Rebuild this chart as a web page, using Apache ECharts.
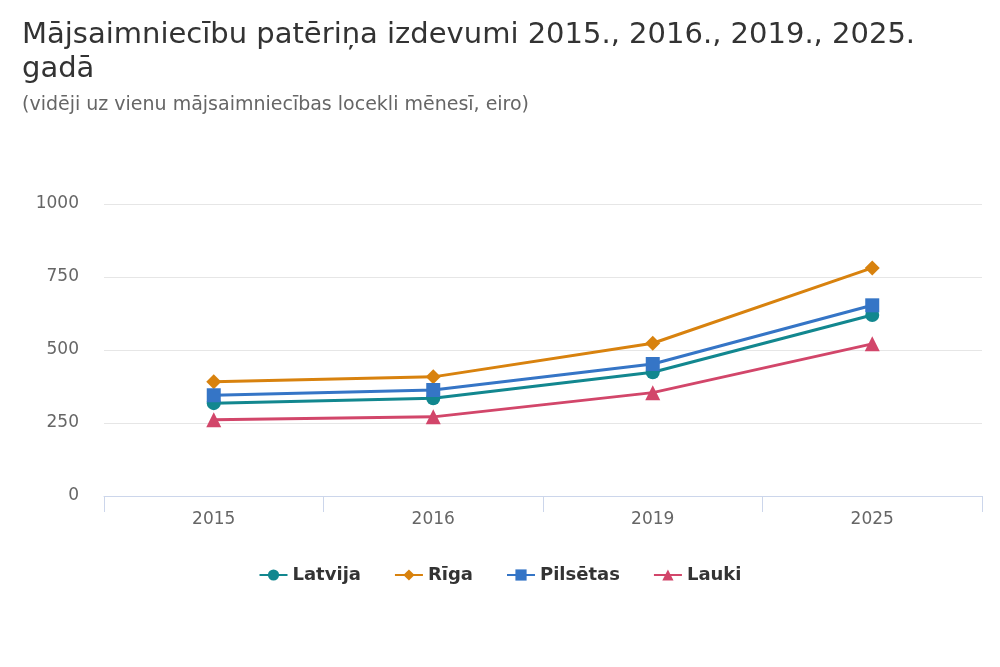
<!DOCTYPE html>
<html>
<head>
<meta charset="utf-8">
<script src="https://cdn.jsdelivr.net/npm/echarts@6/dist/echarts.min.js"></script>
<style>
  html, body { margin: 0; padding: 0; background: #fff; }
  #main { width: 1000px; height: 667px; }
</style>
</head>
<body>
<div id="main"></div>
<script>
// dati no attēla (eiro mēnesī uz vienu locekli)
var years = ["2015", "2016", "2019", "2025"];
var latvija = [318, 335, 424, 620];
var riga = [391, 408, 523, 781];
var pilsetas = [345, 363, 452, 653];
var lauki = [261, 271, 354, 521];
var yTicks = [0, 250, 500, 750, 1000];

var colors = ["#12878f", "#d8820e", "#3575c6", "#d2466a"];
var font = "DejaVu Sans";

function lineSeries(name, data, symbol, size) {
  return {
    name: name,
    type: "line",
    data: data,
    symbol: symbol,
    symbolSize: size,
    showSymbol: true,
    lineStyle: { width: 3 },
    emphasis: { disabled: true }
  };
}

var myChart = echarts.init(document.getElementById("main"));
var option = {
  animation: false,
  color: colors,
  textStyle: { fontFamily: font },
  title: [
    {
      text: "Mājsaimniecību patēriņa izdevumi 2015., 2016., 2019., 2025.\ngadā",
      left: 17,
      top: 13,
      textStyle: {
        fontFamily: font,
        fontSize: 29,
        fontWeight: "normal",
        color: "#333333",
        lineHeight: 34
      }
    },
    {
      text: "(vidēji uz vienu mājsaimniecības locekli mēnesī, eiro)",
      left: 17,
      top: 91,
      textStyle: {
        fontFamily: font,
        fontSize: 19,
        fontWeight: "normal",
        color: "#666666"
      }
    }
  ],
  legend: {
    bottom: 78,
    left: "center",
    itemGap: 33,
    itemWidth: 28,
    itemHeight: 14,
    textStyle: {
      fontFamily: font,
      fontSize: 18,
      fontWeight: "bold",
      color: "#333333"
    },
    data: ["Latvija", "Rīga", "Pilsētas", "Lauki"]
  },
  grid: {
    left: 104,
    right: 18,
    top: 204,
    bottom: 171,
    containLabel: false
  },
  xAxis: {
    type: "category",
    data: years,
    boundaryGap: true,
    axisLine: { lineStyle: { color: "#ccd6eb", width: 1 } },
    axisTick: { show: true, length: 16, lineStyle: { color: "#ccd6eb" } },
    axisLabel: { color: "#666666", fontFamily: font, fontSize: 17, margin: 15 },
    splitLine: { show: false }
  },
  yAxis: {
    type: "value",
    min: yTicks[0],
    max: yTicks[yTicks.length - 1],
    interval: 250,
    axisLine: { show: false },
    axisTick: { show: false },
    axisLabel: {
      color: "#666666",
      fontFamily: font,
      fontSize: 17,
      margin: 25,
      formatter: function (v) { return String(v); }
    },
    splitLine: { lineStyle: { color: "#e6e6e6", width: 1 } }
  },
  series: [
    lineSeries("Latvija", latvija, "circle", 14),
    lineSeries("Rīga", riga, "diamond", 15),
    lineSeries("Pilsētas", pilsetas, "rect", 14),
    lineSeries("Lauki", lauki, "triangle", 15)
  ]
};
myChart.setOption(option);
</script>
</body>
</html>
